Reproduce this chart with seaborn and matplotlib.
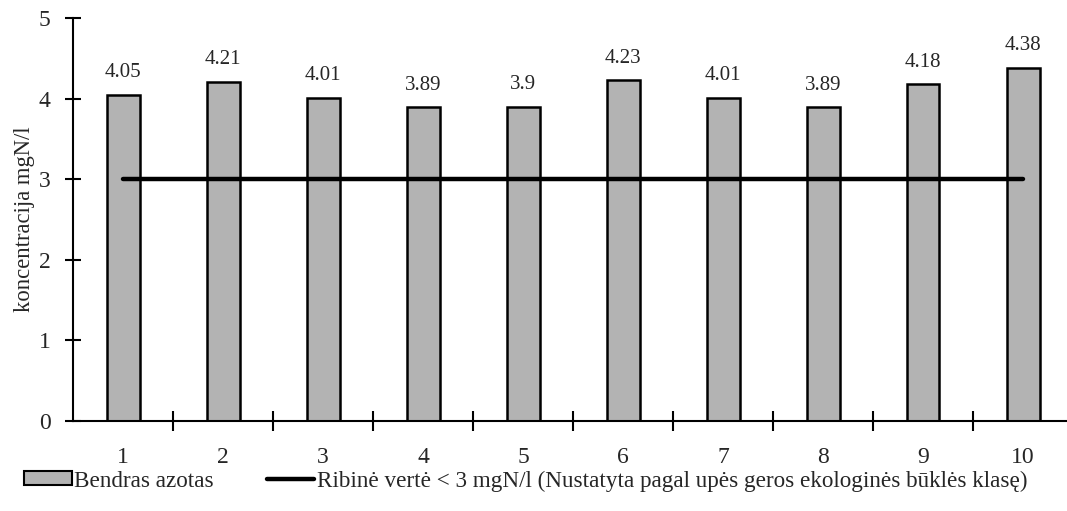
import matplotlib
matplotlib.use("Agg")
import matplotlib.pyplot as plt
import seaborn as sns
import pandas as pd
from matplotlib.patches import Patch
from matplotlib.lines import Line2D

# Measurement points and total nitrogen concentration (mgN/l)
points = ["1", "2", "3", "4", "5", "6", "7", "8", "9", "10"]
nitrogen = [4.05, 4.21, 4.01, 3.89, 3.90, 4.23, 4.01, 3.89, 4.18, 4.38]
threshold = [3] * len(points)
value_labels = ["4.05", "4.21", "4.01", "3.89", "3.9", "4.23", "4.01", "3.89", "4.18", "4.38"]

bar_name = "Bendras azotas"
line_name = "Ribinė vertė < 3 mgN/l (Nustatyta pagal upės geros ekologinės būklės klasę)"

sns.set_theme(style="white")
plt.rcParams["font.family"] = ["Liberation Serif", "DejaVu Serif"]
plt.rcParams["font.size"] = 16

df = pd.DataFrame({"point": points, "value": nitrogen})

fig = plt.figure(figsize=(10.67, 5.11), dpi=100)
ax = fig.add_axes([73 / 1067, 1 - 421 / 511, 1000 / 1067, (421 - 18) / 511])

sns.barplot(data=df, x="point", y="value", color="#b3b3b3", saturation=1,
            width=0.33, edgecolor="black", linewidth=1.8, ax=ax)
ax.bar_label(ax.containers[0], labels=value_labels, padding=9, fontsize=15)

ax.plot(range(len(points)), threshold, color="black", linewidth=3.2,
        solid_capstyle="round", zorder=5)

ax.set_xlim(-0.5, len(points) - 0.5)
ax.set_ylim(0, 5)
ax.set_yticks([0, 1, 2, 3, 4, 5])
ax.set_yticklabels(["0", "1", "2", "3", "4", "5"], fontsize=17)

# Category boundaries carry the ticks; labels sit at bar centres
ax.set_xticks([i + 0.5 for i in range(len(points) - 1)])
ax.set_xticklabels([])
ax.set_xticks(range(len(points)), minor=True)
ax.set_xticklabels(points, minor=True, fontsize=17)
ax.tick_params(axis="x", which="major", bottom=True, direction="inout", length=14,
               width=1.5, color="black")
ax.tick_params(axis="x", which="minor", bottom=True, length=0, pad=19)
ax.tick_params(axis="y", left=True, direction="inout", length=12, width=1.5,
               color="black", pad=10)

for side in ["top", "right"]:
    ax.spines[side].set_visible(False)
for side in ["left", "bottom"]:
    ax.spines[side].set_color("black")
    ax.spines[side].set_linewidth(1.5)

ax.set_xlabel("")
ax.set_ylabel("koncentracija mgN/l", fontsize=16.3, labelpad=3)

handles = [
    Patch(facecolor="#b3b3b3", edgecolor="black", linewidth=1.5, label=bar_name),
    Line2D([0], [0], color="black", linewidth=3.2, solid_capstyle="round", label=line_name),
]
fig.legend(handles=handles, loc="center left", bbox_to_anchor=(24 / 1067, 1 - 481 / 511),
           ncol=2, frameon=False, fontsize=16.7, handlelength=2.05, handleheight=0.55,
           handletextpad=0.1, columnspacing=2.3, borderaxespad=0, borderpad=0)

fig.savefig("out.png", dpi=100)
